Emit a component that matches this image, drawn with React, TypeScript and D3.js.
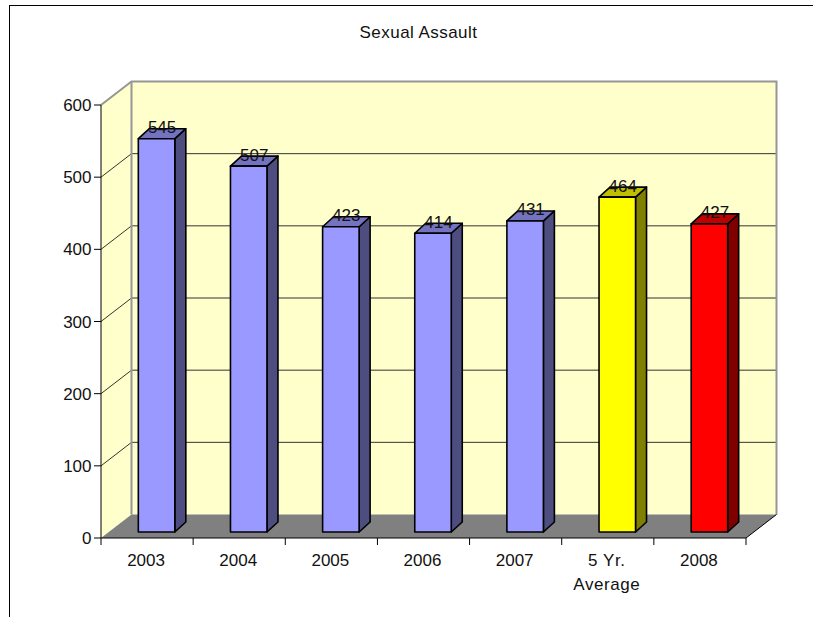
import React from 'react';
import * as d3 from 'd3';

const categories = ['2003', '2004', '2005', '2006', '2007', '5 Yr.|Average', '2008'];
const values = [545, 507, 423, 414, 431, 464, 427];
const yTicks = [0, 100, 200, 300, 400, 500, 600];

// front, top, side
const blue = ['#9999ff', '#7373bf', '#4d4d80'];
const yellow = ['#ffff00', '#bfbf00', '#808000'];
const red = ['#ff0000', '#bf0000', '#800000'];
const barColors = [blue, blue, blue, blue, blue, yellow, red];

const width = 813;
const height = 617;
const font = '"Liberation Sans", Arial, sans-serif';
const labelSize = 17;

// front plane of the plot
const x = d3.scaleBand().domain(categories).range([101, 746]);
const y = d3.scaleLinear().domain([0, 600]).range([538, 105]);

// 3D offsets: the back wall, and the bar position inside the floor
const wallDx = 30.5;
const wallDy = -23.5;
const barDx = 9.5;
const barDy = -6;
const barDepthX = 11;
const barDepthY = -10;
const barWidth = 36.5;

const wallColor = '#ffffcc';
const edgeColor = '#969696';
const floorColor = '#808080';
const textColor = '#111';

const poly = (pts: number[][]) => pts.map(p => p.join(',')).join(' ');

export default function App() {
  const left = x.range()[0];
  const right = x.range()[1];
  const bottom = y(0);
  const top = y(600);

  return (
    <svg
      width={width}
      height={height}
      style={{ position: 'absolute', left: 0, top: 0, background: '#fff' }}
      fontFamily={font}
      fill={textColor}
    >
      {/* outer frame runs off the page on the right and bottom */}
      <rect x={9.5} y={5.5} width={width + 20} height={height + 20} fill="none" stroke="#000" />

      <text x={418.5} y={38} fontSize={labelSize} letterSpacing={0.45} textAnchor="middle">Sexual Assault</text>

      {/* walls */}
      <polygon
        points={poly([[left + wallDx, top + wallDy], [right + wallDx, top + wallDy], [right + wallDx, bottom + wallDy], [left + wallDx, bottom + wallDy]])}
        fill={wallColor}
      />
      <polygon
        points={poly([[left, top], [left + wallDx, top + wallDy], [left + wallDx, bottom + wallDy], [left, bottom]])}
        fill={wallColor}
      />

      {/* gridlines on both walls */}
      {yTicks.slice(1, -1).map(t => (
        <g key={t} stroke="#333" strokeWidth={1}>
          <line x1={left} y1={y(t)} x2={left + wallDx} y2={y(t) + wallDy} />
          <line x1={left + wallDx} y1={y(t) + wallDy} x2={right + wallDx} y2={y(t) + wallDy} />
        </g>
      ))}

      {/* wall edges */}
      <polyline
        points={poly([[left, top], [left + wallDx, top + wallDy], [right + wallDx, top + wallDy], [right + wallDx, bottom + wallDy]])}
        fill="none"
        stroke={edgeColor}
        strokeWidth={2}
      />
      <line x1={left + wallDx} y1={top + wallDy} x2={left + wallDx} y2={bottom + wallDy} stroke={edgeColor} strokeWidth={2} />

      {/* floor */}
      <polygon
        points={poly([[left, bottom], [right, bottom], [right + wallDx, bottom + wallDy], [left + wallDx, bottom + wallDy]])}
        fill={floorColor}
      />

      {/* bars */}
      {categories.map((c, i) => {
        const x0 = (x(c) as number) + x.bandwidth() / 2 + barDx - barWidth / 2;
        const x1 = x0 + barWidth;
        const yb = y(0) + barDy;
        const yt = y(values[i]) + barDy;
        const [front, topC, side] = barColors[i];
        return (
          <g key={c} stroke="#000" strokeWidth={1.6} strokeLinejoin="round">
            <polygon
              points={poly([[x1, yb], [x1 + barDepthX, yb + barDepthY], [x1 + barDepthX, yt + barDepthY], [x1, yt]])}
              fill={side}
            />
            <polygon
              points={poly([[x0, yt], [x1, yt], [x1 + barDepthX, yt + barDepthY], [x0 + barDepthX, yt + barDepthY]])}
              fill={topC}
            />
            <rect x={x0} y={yt} width={barWidth} height={yb - yt} fill={front} />
          </g>
        );
      })}

      {/* value labels */}
      {categories.map((c, i) => (
        <text
          key={c}
          x={(x(c) as number) + x.bandwidth() / 2 + barDx + barDepthX / 2}
          y={y(values[i]) + barDy - 5.5}
          fontSize={labelSize}
          textAnchor="middle"
        >
          {values[i]}
        </text>
      ))}

      {/* y axis */}
      <line x1={left} y1={top} x2={left} y2={bottom} stroke="#000" />
      {yTicks.map(t => (
        <g key={t}>
          <line x1={left - 7} y1={y(t)} x2={left} y2={y(t)} stroke="#000" />
          <text x={left - 9.5} y={y(t) + 6} fontSize={labelSize} textAnchor="end">{t}</text>
        </g>
      ))}

      {/* x axis */}
      <line x1={left} y1={bottom} x2={right} y2={bottom} stroke="#000" />
      {[...categories.map(c => x(c) as number), right].map((tx, i) => (
        <line key={i} x1={tx} y1={bottom} x2={tx} y2={bottom + 7} stroke="#000" />
      ))}
      <line x1={right} y1={bottom} x2={right + wallDx} y2={bottom + wallDy} stroke="#000" />
      {categories.map(c => (
        <text
          key={c}
          textAnchor="middle"
          fontSize={labelSize}
          letterSpacing={c.includes('|') ? 0.55 : 0}
        >
          {c.split('|').map((line, j) => (
            <tspan key={j} x={(x(c) as number) + x.bandwidth() / 2 - 1} y={566 + j * 24}>{line}</tspan>
          ))}
        </text>
      ))}
    </svg>
  );
}
